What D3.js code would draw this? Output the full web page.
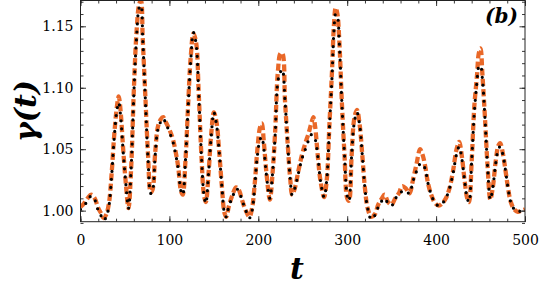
<!DOCTYPE html>
<html><head><meta charset="utf-8">
<script src="https://cdn.jsdelivr.net/npm/d3@7"></script>
<style>
html,body{margin:0;padding:0;background:#fff;}
svg{display:block;}
</style></head>
<body>
<svg id="c" width="540" height="294"></svg>
<script>
// ---- data ----
const tValues = [0,4,8,12,16,20,23,26,29,32,35,38,41,43,45,48,51,54,57,60,63,66,68,70,73,76,79,81,84,87,90,93,96,100,104,107,110,113,115,118,121,124,127,130,133,136,139,141,144,147,150,153,156,159,162,164,167,171,175,178,182,186,190,193,196,199,202,204,206,209,213,216,219,222,225,227,230,233,236,238,241,245,249,253,257,260,262,264,267,270,274,277,280,283,285,287,289,291,294,297,300,302,305,308,311,314,317,320,323,327,331,335,339,342,346,350,354,358,362,366,370,374,378,382,385,388,391,395,399,403,407,411,415,419,423,426,429,432,435,437,440,443,446,448,450,452,455,458,461,464,467,470,472,475,478,481,484,488,492,496,500];
const orangeSeries = [1.003,1.006,1.010,1.013,1.010,1.002,0.998,0.994,0.997,1.006,1.030,1.062,1.085,1.093,1.082,1.050,1.022,1.002,1.035,1.098,1.145,1.168,1.171,1.140,1.092,1.045,1.015,1.017,1.047,1.068,1.074,1.076,1.072,1.066,1.058,1.048,1.035,1.016,1.013,1.040,1.085,1.125,1.144,1.137,1.095,1.045,1.012,1.007,1.030,1.062,1.080,1.072,1.048,1.020,0.998,0.995,1.004,1.013,1.019,1.017,1.008,1.000,0.995,1.002,1.022,1.050,1.068,1.071,1.058,1.032,1.009,1.030,1.065,1.113,1.128,1.128,1.090,1.055,1.025,1.013,1.018,1.032,1.045,1.055,1.064,1.072,1.076,1.068,1.044,1.024,1.011,1.025,1.070,1.115,1.150,1.165,1.160,1.140,1.088,1.045,1.010,1.008,1.045,1.075,1.082,1.070,1.045,1.018,1.002,0.995,0.997,1.005,1.010,1.013,1.007,1.005,1.010,1.014,1.020,1.018,1.014,1.025,1.038,1.050,1.045,1.035,1.022,1.012,1.006,1.004,1.006,1.010,1.018,1.032,1.050,1.056,1.044,1.025,1.010,1.007,1.040,1.085,1.110,1.128,1.132,1.112,1.075,1.035,1.009,1.020,1.040,1.053,1.055,1.047,1.033,1.018,1.007,1.001,0.999,1.000,1.001];
const blackSeries = [1.001,1.004,1.008,1.012,1.009,1.000,0.996,0.992,0.995,1.004,1.028,1.060,1.082,1.088,1.078,1.048,1.022,1.002,1.035,1.095,1.140,1.165,1.167,1.140,1.090,1.042,1.014,1.016,1.045,1.066,1.072,1.075,1.071,1.064,1.056,1.046,1.034,1.016,1.013,1.040,1.083,1.122,1.145,1.136,1.095,1.045,1.012,1.006,1.030,1.060,1.080,1.070,1.048,1.020,0.998,0.995,1.004,1.011,1.018,1.016,1.008,1.000,0.994,1.000,1.020,1.045,1.058,1.060,1.052,1.030,1.010,1.030,1.062,1.105,1.113,1.115,1.090,1.055,1.025,1.013,1.018,1.030,1.042,1.050,1.058,1.062,1.060,1.058,1.044,1.024,1.011,1.025,1.068,1.110,1.145,1.160,1.158,1.138,1.088,1.045,1.012,1.008,1.045,1.072,1.080,1.070,1.045,1.018,1.002,0.993,0.996,1.003,1.008,1.010,1.006,1.004,1.010,1.012,1.016,1.016,1.014,1.024,1.032,1.038,1.038,1.033,1.022,1.012,1.006,1.004,1.006,1.010,1.018,1.030,1.046,1.052,1.042,1.025,1.010,1.007,1.040,1.080,1.105,1.117,1.118,1.108,1.075,1.035,1.009,1.020,1.038,1.050,1.052,1.046,1.033,1.018,1.007,1.001,0.999,1.000,1.001];
const xTickLabels = [0,100,200,300,400,500];
const xMinorTicks = d3.range(0,501,20);
const yTickLabels = [1.00,1.05,1.10,1.15];
const yMinorTicks = d3.range(99,118).map(d=>d/100);
const xDomain = [0,500];
const yDomain = [0.991,1.171];

// ---- layout ----
const FONT = "DejaVu Serif";
const L=80.5, R=525, T=0.5, B=221.7;
const svg = d3.select("#c");
const x = d3.scaleLinear().domain(xDomain).range([L,R]);
const y = d3.scaleLinear().domain(yDomain).range([B,T]);

svg.append("defs").append("clipPath").attr("id","clip")
  .append("rect").attr("x",L).attr("y",T).attr("width",R-L).attr("height",B-T);

const pts = (vals)=> tValues.map((t,i)=>[t,vals[i]]);
const line = d3.line().x(d=>x(d[0])).y(d=>y(d[1])).curve(d3.curveCatmullRom.alpha(0.5));

const g = svg.append("g").attr("clip-path","url(#clip)");
g.append("path").datum(pts(orangeSeries)).attr("d",line)
  .attr("fill","none").attr("stroke","#e8601c").attr("stroke-width",4.3)
  .attr("stroke-dasharray","7 3.3").attr("stroke-opacity",0.95);
g.append("path").datum(pts(blackSeries)).attr("d",line)
  .attr("fill","none").attr("stroke","#000").attr("stroke-width",3.2)
  .attr("stroke-linecap","round").attr("stroke-dasharray","0 8");

// ---- axes (ticks inward, all four sides) ----
const fmtY = d3.format(".2f");
function styleAxis(sel){
  sel.attr("font-family", null).attr("font-size", null);
  sel.select(".domain").remove();
  sel.selectAll(".tick line").attr("stroke","#222").attr("stroke-width",0.9);
  sel.selectAll("text").attr("fill","#000").style("font-family",FONT).style("font-size","14px");
}
// bottom
svg.append("g").attr("transform",`translate(0,${B})`)
  .call(d3.axisBottom(x).tickValues(xMinorTicks).tickSizeInner(-3).tickSizeOuter(0).tickFormat(""))
  .call(styleAxis);
svg.append("g").attr("transform",`translate(0,${B})`)
  .call(d3.axisBottom(x).tickValues(xTickLabels).tickSizeInner(-5.5).tickSizeOuter(0).tickPadding(13).tickFormat(d3.format("d")))
  .call(styleAxis);
// top
svg.append("g").attr("transform",`translate(0,${T})`)
  .call(d3.axisTop(x).tickValues(xMinorTicks).tickSizeInner(-3).tickSizeOuter(0).tickFormat(""))
  .call(styleAxis);
svg.append("g").attr("transform",`translate(0,${T})`)
  .call(d3.axisTop(x).tickValues(xTickLabels).tickSizeInner(-5.5).tickSizeOuter(0).tickFormat(""))
  .call(styleAxis);
// left
svg.append("g").attr("transform",`translate(${L},0)`)
  .call(d3.axisLeft(y).tickValues(yMinorTicks).tickSizeInner(-3).tickSizeOuter(0).tickFormat(""))
  .call(styleAxis);
svg.append("g").attr("transform",`translate(${L},0)`)
  .call(d3.axisLeft(y).tickValues(yTickLabels).tickSizeInner(-5.5).tickSizeOuter(0).tickPadding(7).tickFormat(fmtY))
  .call(styleAxis);
// right
svg.append("g").attr("transform",`translate(${R},0)`)
  .call(d3.axisRight(y).tickValues(yMinorTicks).tickSizeInner(-3).tickSizeOuter(0).tickFormat(""))
  .call(styleAxis);
svg.append("g").attr("transform",`translate(${R},0)`)
  .call(d3.axisRight(y).tickValues(yTickLabels).tickSizeInner(-5.5).tickSizeOuter(0).tickFormat(""))
  .call(styleAxis);

// frame
svg.append("rect").attr("x",L).attr("y",T).attr("width",R-L).attr("height",B-T)
  .attr("fill","none").attr("stroke","#222").attr("stroke-width",1);

// labels
svg.append("text").attr("x",297).attr("y",279).attr("text-anchor","middle")
  .style("font-family",FONT).style("font-size","30px").style("font-weight","bold").style("font-style","italic").text("t");
svg.append("text").attr("transform","translate(36,111) rotate(-90)").attr("text-anchor","middle")
  .style("font-family",FONT).style("font-size","30px").style("font-weight","bold").style("font-style","italic").text("γ(t)");
svg.append("text").attr("x",518).attr("y",23).attr("text-anchor","end")
  .style("font-family",FONT).style("font-size","20px").style("font-weight","bold").style("font-style","italic").text("(b)");
</script>
</body></html>
